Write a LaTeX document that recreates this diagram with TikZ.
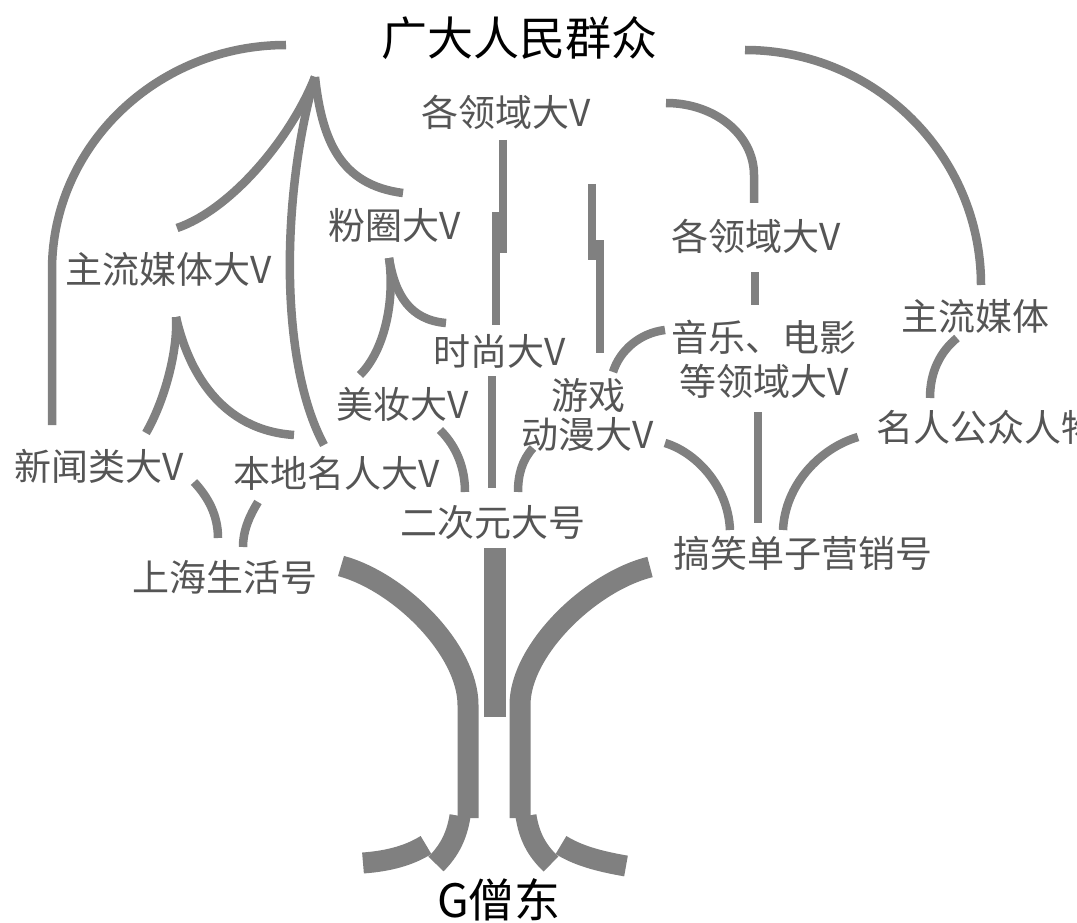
\documentclass[tikz,border=0pt]{standalone}
\usepackage{fontspec}
\setmainfont{Noto Sans CJK SC}
\definecolor{linegray}{HTML}{808080}
\definecolor{textgray}{HTML}{555555}
\tikzset{
  lbl/.style={text=textgray, inner sep=0pt, align=center, font=\fontsize{37}{44}\selectfont},
  bigtxt/.style={text=black, inner sep=0pt, font=\fontsize{46}{50}\selectfont},
  thinline/.style={draw=linegray, line width=8.5pt},
  thickline/.style={draw=linegray, line width=21pt},
}
\begin{document}
\begin{tikzpicture}[x=1pt,y=-1pt]
\useasboundingbox (0,0) rectangle (1077,923);
\clip (0,0) rectangle (1077,923);
\fill[white] (0,0) rectangle (1077,923);

% ---------- labels ----------
\node[bigtxt] (people) at (519,38) {广大人民群众};
\node[bigtxt] (gsd) at (499,900) {G僧东};
\node[lbl] (topV) at (506,112) {各领域大V};
\node[lbl] (fanV) at (395,225) {粉圈大V};
\node[lbl] (mainV) at (169,269) {主流媒体大V};
\node[lbl] (rightV) at (756,236) {各领域大V};
\node[lbl] (mainMedia) at (975,316) {主流媒体};
\node[lbl, font=\fontsize{37}{44}\selectfont] (music) at (764,359) {音乐、电影\\等领域大V};
\node[lbl] (fashion) at (500,351) {时尚大V};
\node[lbl] (makeup) at (403,404) {美妆大V};
\node[lbl, font=\fontsize{37}{39}\selectfont] (game) at (588,415) {游戏\\动漫大V};
\node[lbl, anchor=west] (celeb) at (876,427) {名人公众人物};
\node[lbl] (news) at (99,466) {新闻类大V};
\node[lbl] (local) at (337,473) {本地名人大V};
\node[lbl] (acg) at (493,523) {二次元大号};
\node[lbl] (sh) at (225,577) {上海生活号};
\node[lbl] (funny) at (803,553) {搞笑单子营销号};

% ---------- named end points ----------
\coordinate (peak) at (315,77);
\coordinate (bigLtop) at (286,45);
\coordinate (bigLbot) at (52,425);
\coordinate (b1end) at (177,228);
\coordinate (b2end) at (403,193);
\coordinate (b3end) at (324,445);
\coordinate (cpeak) at (176,317);
\coordinate (c1end) at (146,433);
\coordinate (c2end) at (294,435);
\coordinate (dpeak) at (389,258);
\coordinate (d1end) at (360,375);
\coordinate (d2end) at (446,323);

% ---------- thin connectors, left part ----------
\draw[thinline] (bigLtop) .. controls (157,45) and (52,146) .. (52,270) -- (bigLbot);
\draw[thinline] (peak) .. controls (290,140) and (230,210) .. (b1end);
\draw[thinline] (peak) .. controls (322,140) and (340,185) .. (b2end);
\draw[thinline] (peak) .. controls (282,190) and (278,360) .. (b3end);
\draw[thinline] (cpeak) .. controls (178,350) and (165,400) .. (c1end);
\draw[thinline] (cpeak) .. controls (188,370) and (220,430) .. (c2end);
\draw[thinline] (dpeak) .. controls (395,300) and (385,350) .. (d1end);
\draw[thinline] (dpeak) .. controls (395,295) and (410,320) .. (d2end);

% broken verticals below the top "各领域大V"
\coordinate (v1a) at (503,140); \coordinate (v1b) at (503,253);
\coordinate (v2a) at (496,212); \coordinate (v2b) at (496,325);
\coordinate (v3a) at (592,184); \coordinate (v3b) at (592,260);
\coordinate (v4a) at (600,240); \coordinate (v4b) at (600,353);
\draw[thinline] (v1a) -- (v1b);
\draw[thinline] (v2a) -- (v2b);
\draw[thinline] (v3a) -- (v3b);
\draw[thinline] (v4a) -- (v4b);

% around 二次元大号
\coordinate (f1) at (492,376); \coordinate (f2) at (492,488);
\draw[thinline] (f1) -- (f2);
\coordinate (m1) at (440,430); \coordinate (m2) at (465,492);
\draw[thinline] (m1) .. controls (458,448) and (465,470) .. (m2);
\coordinate (g1) at (533,448); \coordinate (g2) at (518,492);
\draw[thinline] (g1) .. controls (522,460) and (518,475) .. (g2);

% ---------- thin connectors, right part ----------
\coordinate (tr1) at (666,103); \coordinate (tr2) at (754,203);
\draw[thinline] (tr1) .. controls (715,103) and (754,135) .. (754,175) -- (tr2);
\coordinate (sv1) at (755,272); \coordinate (sv2) at (755,305);
\draw[thinline] (sv1) -- (sv2);
\coordinate (bigRtop) at (745,50); \coordinate (bigRbot) at (981,285);
\draw[thinline] (bigRtop) .. controls (875,50) and (981,155) .. (bigRbot);
\coordinate (mm1) at (957,338); \coordinate (mm2) at (930,398);
\draw[thinline] (mm1) .. controls (940,352) and (930,372) .. (mm2);
\coordinate (mu1) at (665,330); \coordinate (mu2) at (613,372);
\draw[thinline] (mu1) .. controls (640,333) and (620,350) .. (mu2);
\coordinate (mv1) at (758,412); \coordinate (mv2) at (758,523);
\draw[thinline] (mv1) -- (mv2);
\coordinate (dm1) at (665,443); \coordinate (dm2) at (730,530);
\draw[thinline] (dm1) .. controls (695,452) and (728,485) .. (dm2);
\coordinate (ce1) at (858,437); \coordinate (ce2) at (783,530);
\draw[thinline] (ce1) .. controls (820,448) and (785,485) .. (ce2);

% ---------- 上海生活号 ----------
\coordinate (n1) at (194,482); \coordinate (n2) at (218,538);
\draw[thinline] (n1) .. controls (208,497) and (218,515) .. (n2);
\coordinate (l1) at (258,502); \coordinate (l2) at (243,547);
\draw[thinline] (l1) .. controls (250,515) and (243,530) .. (l2);

% ---------- thick trunk ----------
\coordinate (tl1) at (341,566); \coordinate (tl2) at (468,818);
\draw[thickline] (tl1) .. controls (400,582) and (468,650) .. (468,705) -- (tl2);
\coordinate (trt1) at (650,567); \coordinate (trt2) at (520,818);
\draw[thickline] (trt1) .. controls (590,582) and (520,650) .. (520,705) -- (trt2);
\coordinate (mt1) at (495,548); \coordinate (mt2) at (495,717);
\draw[thickline, line width=22pt] (mt1) -- (mt2);

% bottom flares with breaks
\coordinate (la1) at (460,816); \coordinate (la2) at (436,864);
\draw[thickline] (la1) .. controls (457,835) and (450,850) .. (la2);
\coordinate (lb1) at (426,845); \coordinate (lb2) at (363,863);
\draw[thickline] (lb1) .. controls (410,855) and (390,861) .. (lb2);
\coordinate (ra1) at (526,816); \coordinate (ra2) at (551,864);
\draw[thickline] (ra1) .. controls (529,835) and (536,850) .. (ra2);
\coordinate (rb1) at (561,845); \coordinate (rb2) at (626,866);
\draw[thickline] (rb1) .. controls (577,855) and (597,861) .. (rb2);
\end{tikzpicture}
\end{document}
